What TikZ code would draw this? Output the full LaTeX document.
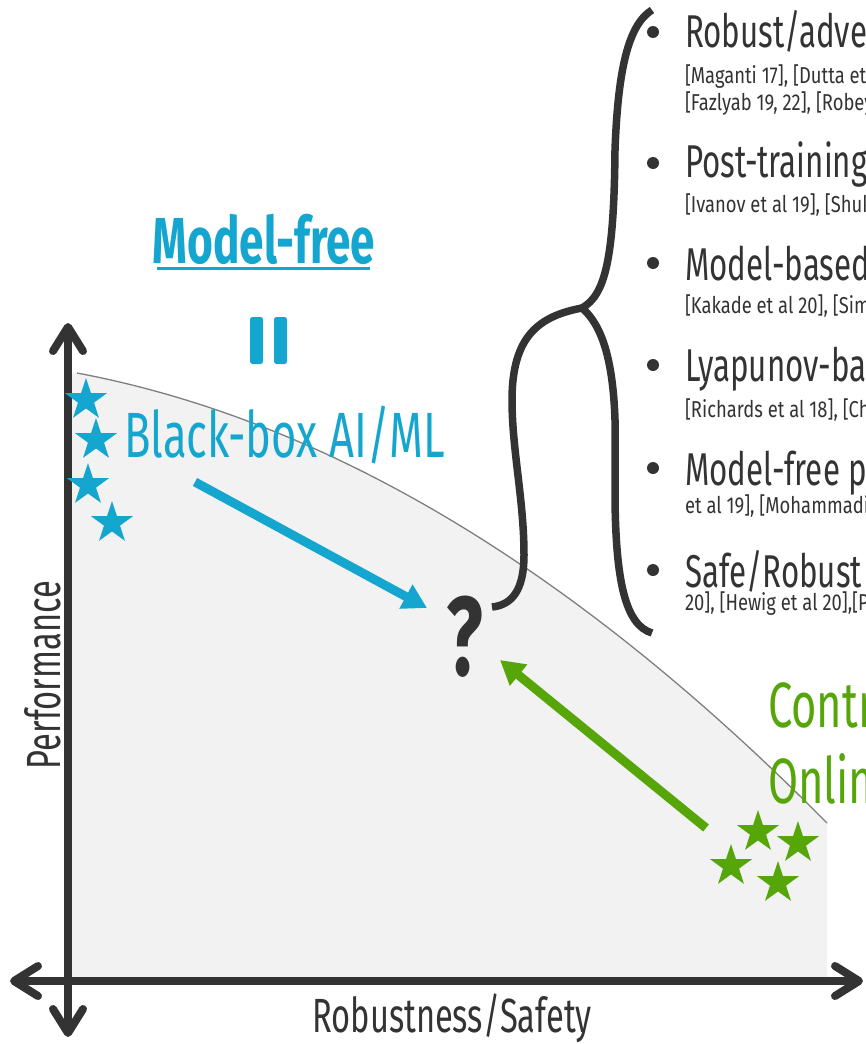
\documentclass[tikz,border=0pt]{standalone}
\usepackage{fontspec}
\setmainfont{Fira Sans}[FakeStretch=0.68]
\newfontfamily\citefont{Fira Sans}[FakeStretch=0.8]
\usetikzlibrary{arrows.meta,shapes.geometric}
\definecolor{mfblue}{HTML}{14A6CE}
\definecolor{ctgreen}{HTML}{56A60A}
\definecolor{ink}{HTML}{333333}
\definecolor{region}{HTML}{F2F2F2}
\definecolor{frontier}{HTML}{7F7F7F}
\begin{document}
\begin{tikzpicture}[x=1pt,y=-1pt,
  txt/.style={inner sep=0pt, outer sep=0pt},
  fbig/.style={font=\fontsize{64}{70}\selectfont},
  fhead/.style={font=\fontsize{46}{50}\selectfont, text=ink},
  fcite/.style={font=\citefont\fontsize{23}{26}\selectfont, text=ink},
  faxis/.style={font=\fontsize{48}{52}\selectfont, text=ink},
  axisline/.style={draw=ink, line width=8pt,
    {Straight Barb[round,length=24pt,width=30pt]}-{Straight Barb[round,length=24pt,width=30pt]}},
  starmark/.style={star, star points=5, star point ratio=2.6, minimum size=44pt,
    inner sep=0pt, draw=none},
  pusharrow/.style={line width=9pt,
    -{Triangle[length=24pt,width=26pt]}},
  bracestroke/.style={draw=ink, line width=7.5pt},
  bulletdot/.style={circle, fill=ink, minimum size=12pt, inner sep=0pt},
]
\useasboundingbox (0,0) rectangle (865,1044);
\clip (0,0) rectangle (865,1044);

% feasible region under the trade-off frontier
\fill[region] (70,373) -- (77,373) .. controls (327,420) and (577,570) .. (827,823)
  -- (827,981) -- (70,981) -- cycle;
\draw[frontier, line width=1.3pt] (77,373) .. controls (327,420) and (577,570) .. (827,823);

% axes
\draw[axisline] (68,1037) -- (68,323);
\draw[axisline] (10,981) -- (863,981);
\node[txt, faxis, anchor=base] (xlab) at (452,1032) {Robustness/Safety};
\node[txt, faxis, anchor=base, rotate=90] (ylab) at (60,675) {Performance};

% model-free side
\node[txt, text=mfblue, anchor=base, font=\fontsize{65}{70}\selectfont\bfseries] (mf) at (264,263) {Model-free};
\draw[mfblue, line width=3pt] (157,268.5) -- (370,268.5);
\fill[mfblue, rounded corners=2.5pt] (250,317) rectangle (263,364);
\fill[mfblue, rounded corners=2.5pt] (274,317) rectangle (287,364);
\node[txt, fbig, text=mfblue, anchor=base west] (bb) at (124,457) {Black-box AI/ML};

\node[starmark, fill=mfblue] (b1) at (86,400) {};
\node[starmark, fill=mfblue] (b2) at (96,440) {};
\node[starmark, fill=mfblue] (b3) at (88,485) {};
\node[starmark, fill=mfblue] (b4) at (112,523) {};

% control side
\node[txt, fbig, text=ctgreen, anchor=base west] (ct1) at (768,727) {Control};
\node[txt, fbig, text=ctgreen, anchor=base west] (ct2) at (768,803) {Online};

\node[starmark, fill=ctgreen] (g1) at (758,832) {};
\node[starmark, fill=ctgreen] (g2) at (798,843) {};
\node[starmark, fill=ctgreen] (g3) at (731,866) {};
\node[starmark, fill=ctgreen] (g4) at (778,883) {};

% the open question
\node[txt, text=ink, anchor=base, font=\fontsize{112}{112}\selectfont\bfseries] (q) at (465,675) {?};

\coordinate (bstart) at (195,482);
\coordinate (btip) at (427,608);
\coordinate (gstart) at (706,828);
\coordinate (gtip) at (500,660);
\draw[pusharrow, mfblue] (bstart) -- (btip);
\draw[pusharrow, ctgreen] (gstart) -- (gtip);

% brace grouping the approaches
\coordinate (cusp) at (582,308);
\draw[bracestroke] (652,10) .. controls (628,25) and (618,70) .. (615,150)
  .. controls (614,260) and (605,295) .. (cusp);
\draw[bracestroke] (cusp) .. controls (602,325) and (613,360) .. (615,420)
  -- (615,500) .. controls (616,580) and (625,625) .. (652,633);
\draw[bracestroke] (cusp) .. controls (540,316) and (512,335) .. (512,400)
  .. controls (512,450) and (524,500) .. (524,555)
  .. controls (524,590) and (512,605) .. (492,607);

% list of approaches
\node[bulletdot] (d1) at (653,32) {};
\node[txt, fhead, anchor=base west] (h1) at (685,47) {Robust/adversarial};
\node[txt, fcite, anchor=base west] (c1a) at (685,83) {[Maganti 17], [Dutta et};
\node[txt, fcite, anchor=base west] (c1b) at (685,110) {[Fazlyab 19, 22], [Robey};

\node[bulletdot] (d2) at (653,163) {};
\node[txt, fhead, anchor=base west] (h2) at (685,177) {Post-training};
\node[txt, fcite, anchor=base west] (c2) at (685,212) {[Ivanov et al 19], [Shukl};

\node[bulletdot] (d3) at (653,263) {};
\node[txt, fhead, anchor=base west] (h3) at (685,280) {Model-based};
\node[txt, fcite, anchor=base west] (c3) at (685,313) {[Kakade et al 20], [Simc};

\node[bulletdot] (d4) at (653,365) {};
\node[txt, fhead, anchor=base west] (h4) at (685,381) {Lyapunov-based};
\node[txt, fcite, anchor=base west] (c4) at (685,417) {[Richards et al 18], [Cha};

\node[bulletdot] (d5) at (653,468) {};
\node[txt, fhead, anchor=base west] (h5) at (685,485) {Model-free p};
\node[txt, fcite, anchor=base west] (c5) at (685,513) {et al 19], [Mohammadi e};

\node[bulletdot] (d6) at (653,570) {};
\node[txt, fhead, anchor=base west] (h6) at (685,587) {Safe/Robust};
\node[txt, fcite, anchor=base west] (c6) at (685,610) {20], [Hewig et al 20],[P};
\end{tikzpicture}
\end{document}
